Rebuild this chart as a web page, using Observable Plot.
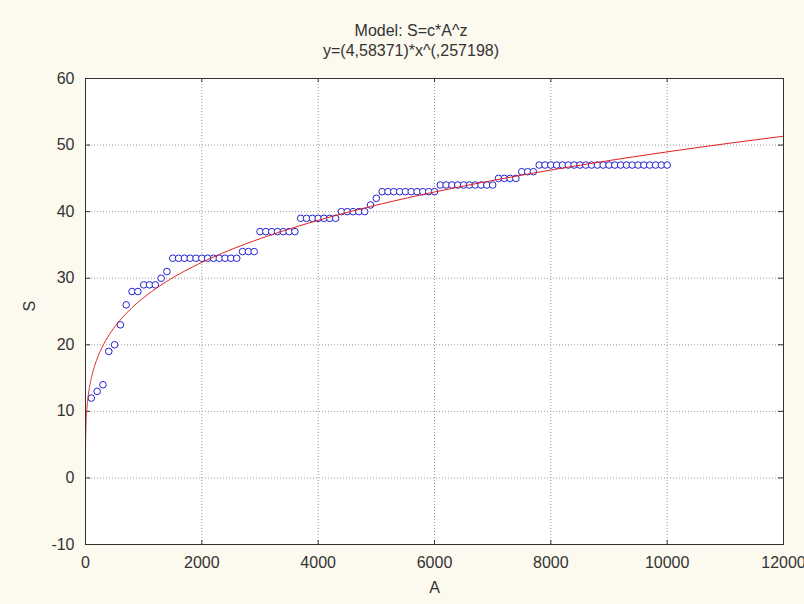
<!DOCTYPE html>
<html><head><meta charset="utf-8">
<script src="https://cdn.jsdelivr.net/npm/d3@7"></script>
<script src="https://cdn.jsdelivr.net/npm/@observablehq/plot@0.6"></script>
<style>
html,body{margin:0;padding:0;background:#fcf9ef;}
#wrap{position:relative;width:804px;height:604px;font-family:"Liberation Sans",Arial,sans-serif;color:#333;}
.t{position:absolute;left:0;width:822px;text-align:center;font-size:16px;line-height:18px;}
#wrap svg{position:absolute;left:0;top:0;}
</style></head><body><div id="wrap">
<div class="t" style="top:22px">Model: S=c*A^z</div>
<div class="t" style="top:42px">y=(4,58371)*x^(,257198)</div>
</div>
<script>
// Observed data (A, S)
const areaA = [100,200,300,400,500,600,700,800,900,1000,1100,1200,1300,1400,1500,1600,1700,1800,1900,2000,
  2100,2200,2300,2400,2500,2600,2700,2800,2900,3000,3100,3200,3300,3400,3500,3600,3700,3800,3900,4000,
  4100,4200,4300,4400,4500,4600,4700,4800,4900,5000,5100,5200,5300,5400,5500,5600,5700,5800,5900,6000,
  6100,6200,6300,6400,6500,6600,6700,6800,6900,7000,7100,7200,7300,7400,7500,7600,7700,7800,7900,8000,
  8100,8200,8300,8400,8500,8600,8700,8800,8900,9000,9100,9200,9300,9400,9500,9600,9700,9800,9900,10000];
const speciesS = [12,13,14,19,20,23,26,28,28,29,29,29,30,31,33,33,33,33,33,33,
  33,33,33,33,33,33,34,34,34,37,37,37,37,37,37,37,39,39,39,39,
  39,39,39,40,40,40,40,40,41,42,43,43,43,43,43,43,43,43,43,43,
  44,44,44,44,44,44,44,44,44,44,45,45,45,45,46,46,46,47,47,47,
  47,47,47,47,47,47,47,47,47,47,47,47,47,47,47,47,47,47,47,47];
// Fitted model parameters S = c*A^z
const modelC = 4.58371;
const modelZ = 0.257198;
const xTicks = [0,2000,4000,6000,8000,10000,12000];
const yTicks = [-10,0,10,20,30,40,50,60];

const points = areaA.map((a,i)=>({A:a, S:speciesS[i]}));
const curve = d3.range(0,301).map(i=>{const a=0.06*Math.pow(12000/0.06,i/300);return {A:a,S:modelC*Math.pow(a,modelZ)};});

const fmt = d=>String(d);
const chart = Plot.plot({
  width:804, height:604,
  marginLeft:85, marginRight:21, marginTop:78, marginBottom:60,
  style:{background:"transparent", fontFamily:'"Liberation Sans",Arial,sans-serif', fontSize:"16px", color:"#333"},
  x:{domain:[0,12000]},
  y:{domain:[-10,60]},
  marks:[
    Plot.frame({fill:"white"}),
    Plot.gridX(xTicks,{stroke:"#9a9a9a", strokeOpacity:1, strokeDasharray:"1,2"}),
    Plot.gridY(yTicks,{stroke:"#9a9a9a", strokeOpacity:1, strokeDasharray:"1,2"}),
    Plot.axisX(xTicks,{tickSize:0, tickPadding:12, tickFormat:fmt, label:null, fill:"#333"}),
    Plot.axisY(yTicks,{tickSize:0, tickPadding:11, tickFormat:fmt, label:null, fill:"#333"}),
    Plot.tickX(xTicks,{x:d=>d, insetTop:462, stroke:"#333"}),
    Plot.tickX(xTicks,{x:d=>d, insetBottom:462, stroke:"#333"}),
    Plot.tickY(yTicks,{y:d=>d, insetRight:693, stroke:"#333"}),
    Plot.tickY(yTicks,{y:d=>d, insetLeft:693, stroke:"#333"}),
    Plot.dot(points,{x:"A", y:"S", r:3.3, stroke:"#2323d0", fill:"white", strokeWidth:1}),
    Plot.line(curve,{x:"A", y:"S", stroke:"#e02020", strokeWidth:1}),
    Plot.frame({stroke:"#333"}),
    Plot.text(["A"],{frameAnchor:"bottom", dy:48, fill:"#333"}),
    Plot.text(["S"],{frameAnchor:"left", dx:-56, rotate:-90, fill:"#333"})
  ]
});
document.getElementById("wrap").appendChild(chart);
</script>
</body></html>
